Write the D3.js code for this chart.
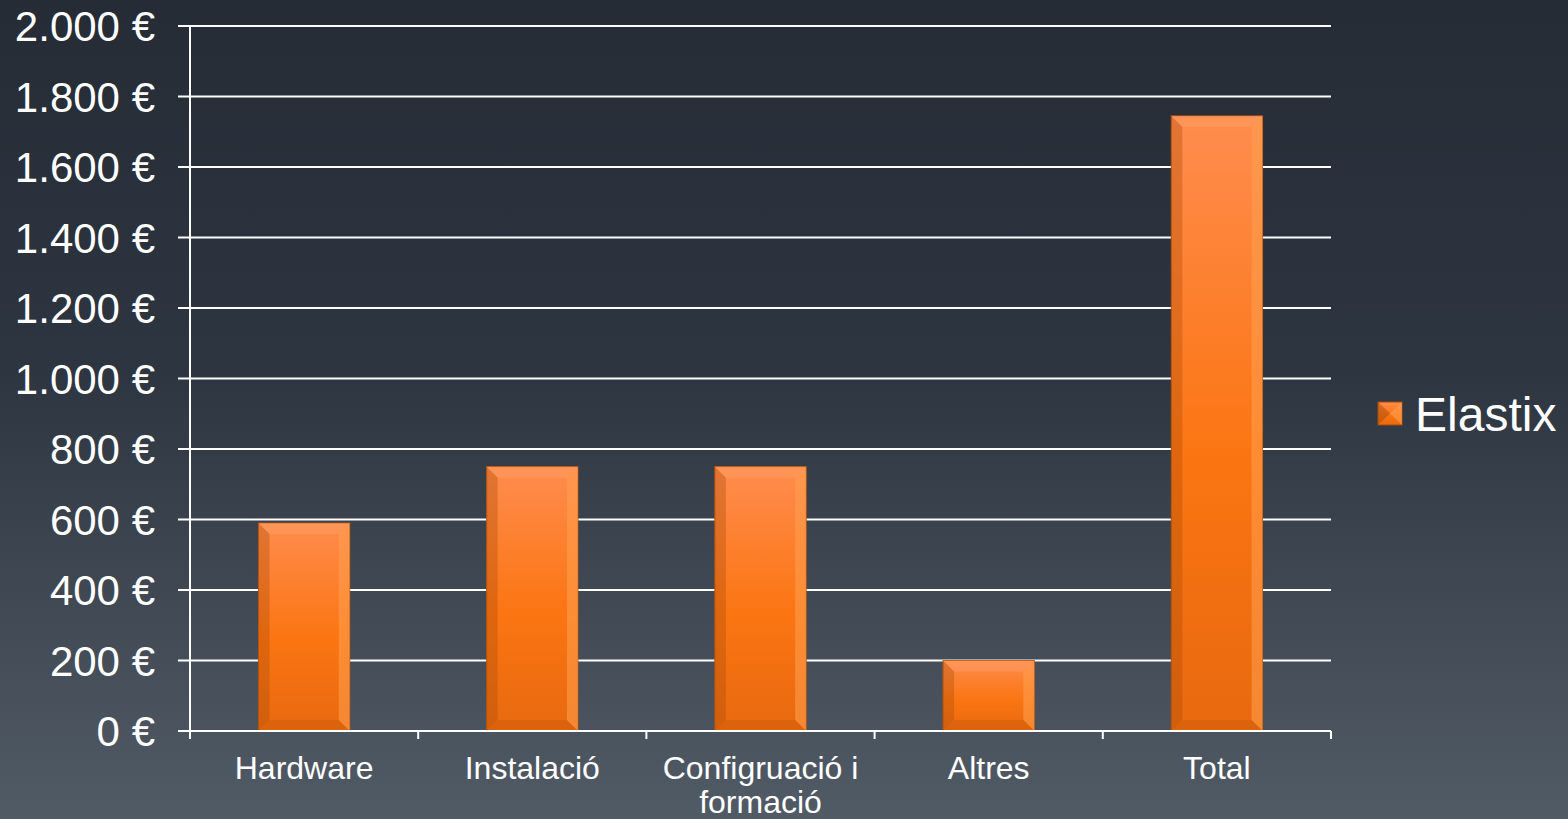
<!DOCTYPE html>
<html>
<head>
<meta charset="utf-8">
<script src="https://cdn.jsdelivr.net/npm/d3@7"></script>
<style>
  html, body { margin: 0; padding: 0; overflow: hidden; }
  svg { display: block; font-family: "Liberation Sans", Arial, sans-serif; }
</style>
</head>
<body>
<svg id="chart" width="1568" height="819"></svg>
<script>
// data
var categories = ["Hardware", "Instalació", "Configruació i formació", "Altres", "Total"];
var values = [590, 750, 750, 200, 1745];
var yTicks = [0, 200, 400, 600, 800, 1000, 1200, 1400, 1600, 1800, 2000];
var seriesName = "Elastix";

var margin = {top: 26, right: 237, bottom: 88, left: 190},
  width = 1568 - margin.left - margin.right,
  height = 819 - margin.top - margin.bottom;

var svg = d3.select("#chart");
var defs = svg.append("defs");

// background gradient
var bg = defs.append("linearGradient").attr("id", "bg").attr("x1", 0).attr("y1", 0).attr("x2", 0).attr("y2", 1);
bg.append("stop").attr("offset", "0%").attr("stop-color", "#252c36");
bg.append("stop").attr("offset", "45%").attr("stop-color", "#2d3540");
bg.append("stop").attr("offset", "100%").attr("stop-color", "#515b66");
svg.append("rect").attr("width", 1568).attr("height", 819).attr("fill", "url(#bg)");

// bar gradient
var bar = defs.append("linearGradient").attr("id", "barfill").attr("x1", 0).attr("y1", 0).attr("x2", 0).attr("y2", 1);
bar.append("stop").attr("offset", "0%").attr("stop-color", "#ff8c4e");
bar.append("stop").attr("offset", "55%").attr("stop-color", "#fb7512");
bar.append("stop").attr("offset", "100%").attr("stop-color", "#e8690f");

var g = svg.append("g").attr("transform", "translate(" + margin.left + "," + margin.top + ")");

var x = d3.scaleBand().domain(categories).range([0, width]).paddingInner(0.6).paddingOuter(0.3);
var xb = d3.scaleBand().domain(categories).range([0, width]);
var y = d3.scaleLinear().domain([0, 2000]).range([height, 0]);

var fmt = function (d) { return d3.format(",")(d).replace(/,/g, ".") + " €"; };

// gridlines
g.selectAll(".grid").data(yTicks).enter().append("line")
  .attr("x1", -12).attr("x2", width)
  .attr("y1", function (d) { return y(d); }).attr("y2", function (d) { return y(d); })
  .attr("stroke", "#ffffff").attr("stroke-width", 2);

// y axis line and labels
g.append("line").attr("x1", 0).attr("x2", 0).attr("y1", 0).attr("y2", height)
  .attr("stroke", "#ffffff").attr("stroke-width", 2);
g.selectAll(".ylab").data(yTicks).enter().append("text")
  .attr("x", -35).attr("y", function (d) { return y(d); })
  .attr("dy", "0.36em").attr("text-anchor", "end")
  .attr("fill", "#ffffff").style("font-size", "42px")
  .text(fmt);

// bars with bevel
var bars = g.selectAll(".bar").data(values).enter().append("g")
  .attr("transform", function (d, i) { return "translate(" + x(categories[i]) + "," + y(d) + ")"; });
var bw = x.bandwidth(), bev = 11;
bars.append("rect").attr("width", bw).attr("height", function (d) { return height - y(d); })
  .attr("fill", "url(#barfill)").attr("stroke", "#b8550c").attr("stroke-width", 1);
// top bevel
bars.append("path").attr("d", function (d) {
  return "M0,0 L" + bw + ",0 L" + (bw - bev) + "," + bev + " L" + bev + "," + bev + "Z";
}).attr("fill", "#ffa068").attr("opacity", 0.45);
// left bevel
bars.append("path").attr("d", function (d) {
  var h = height - y(d);
  return "M0,0 L" + bev + "," + bev + " L" + bev + "," + (h - bev) + " L0," + h + "Z";
}).attr("fill", "#a84b0a").attr("opacity", 0.35);
// right bevel
bars.append("path").attr("d", function (d) {
  var h = height - y(d);
  return "M" + bw + ",0 L" + (bw - bev) + "," + bev + " L" + (bw - bev) + "," + (h - bev) + " L" + bw + "," + h + "Z";
}).attr("fill", "#ffa050").attr("opacity", 0.55);
// bottom bevel
bars.append("path").attr("d", function (d) {
  var h = height - y(d);
  return "M0," + h + " L" + bev + "," + (h - bev) + " L" + (bw - bev) + "," + (h - bev) + " L" + bw + "," + h + "Z";
}).attr("fill", "#c85a08").attr("opacity", 0.4);

// x axis
g.append("line").attr("x1", 0).attr("x2", width).attr("y1", height).attr("y2", height)
  .attr("stroke", "#ffffff").attr("stroke-width", 2);
var xTickPos = categories.map(function (c) { return xb(c); }).concat([width]);
g.selectAll(".xtick").data(xTickPos).enter().append("line")
  .attr("x1", function (d) { return d; }).attr("x2", function (d) { return d; })
  .attr("y1", height).attr("y2", height + 8)
  .attr("stroke", "#ffffff").attr("stroke-width", 2);

var xlab = g.selectAll(".xlab").data(categories).enter().append("text")
  .attr("x", function (d) { return x(d) + bw / 2; })
  .attr("y", height + 48).attr("text-anchor", "middle")
  .attr("fill", "#ffffff").style("font-size", "32px");
xlab.each(function (d) {
  var t = d3.select(this);
  var lines = d === "Configruació i formació" ? ["Configruació i", "formació"] : [d];
  lines.forEach(function (l, k) {
    t.append("tspan").attr("x", x(d) + bw / 2).attr("dy", k === 0 ? 0 : "1.05em").text(l);
  });
});

// legend
var lg = svg.append("g").attr("transform", "translate(1378,402)");
lg.append("rect").attr("width", 24).attr("height", 23).attr("fill", "url(#barfill)").attr("stroke", "#a84b0a");
lg.append("path").attr("d", "M0,0 L12,11.5 L0,23Z").attr("fill", "#a84b0a").attr("opacity", 0.5);
lg.append("path").attr("d", "M24,0 L12,11.5 L24,23Z").attr("fill", "#ffa050").attr("opacity", 0.6);
lg.append("text").attr("x", 37).attr("y", 11.5).attr("dy", "0.36em")
  .attr("fill", "#ffffff").style("font-size", "48px").text(seriesName);
</script>
</body>
</html>
